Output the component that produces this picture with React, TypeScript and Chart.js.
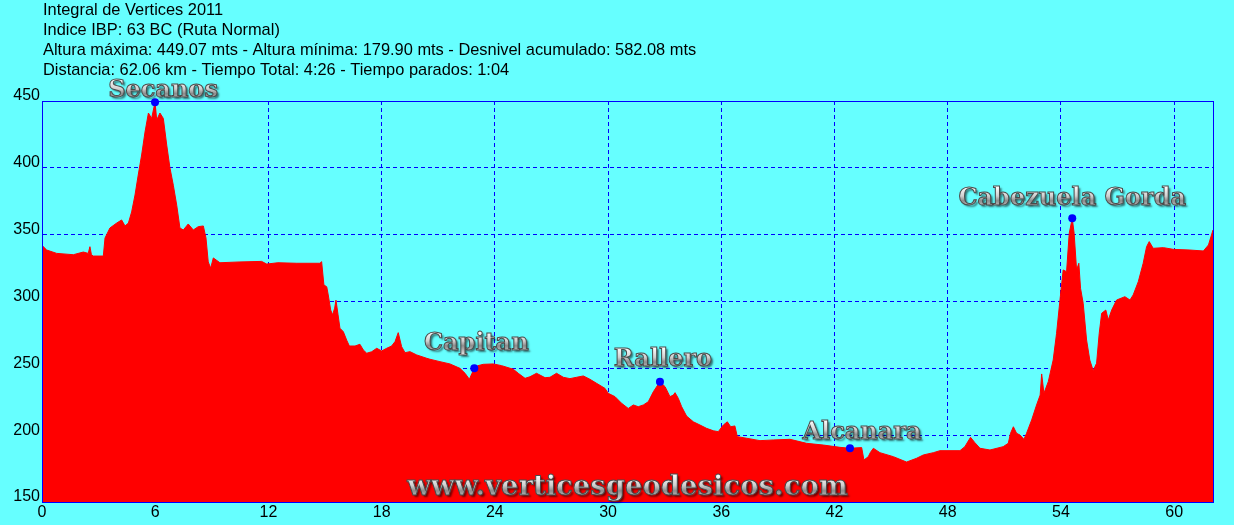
import React, { useEffect, useRef } from "react";
import { Chart, registerables } from "chart.js";

Chart.register(...registerables);

const headerLines = [
  "Integral de Vertices 2011",
  "Indice IBP: 63 BC (Ruta Normal)",
  "Altura máxima: 449.07 mts - Altura mínima: 179.90 mts - Desnivel acumulado: 582.08 mts",
  "Distancia: 62.06 km - Tiempo Total: 4:26 - Tiempo parados: 1:04",
];

const watermark = "www.verticesgeodesicos.com";

const distanceKm = [
  0.0, 0.25, 0.78, 1.66, 2.19, 2.45, 2.54, 2.62, 2.72, 3.25, 3.34, 3.6, 3.96, 4.22, 4.4, 4.58, 4.75, 4.93,
  5.1, 5.28, 5.46, 5.64, 5.81, 5.99, 6.08, 6.25, 6.43, 6.61, 6.78, 6.96, 7.14, 7.31, 7.49, 7.75, 8.02, 8.28,
  8.55, 8.69, 8.81, 8.94, 9.08, 9.43, 10.49, 11.64, 11.91, 12.5, 13.5, 14.73, 14.82, 14.94, 15.09, 15.17,
  15.3, 15.4, 15.51, 15.58, 15.69, 15.79, 15.97, 16.15, 16.29, 16.59, 16.85, 17.03, 17.21, 17.47, 17.74,
  18.0, 18.27, 18.53, 18.71, 18.88, 19.06, 19.24, 19.5, 19.86, 20.39, 20.56, 21.09, 21.62, 22.15, 22.42,
  22.65, 22.79, 22.91, 23.1, 23.39, 23.92, 24.36, 24.98, 25.24, 25.6, 25.86, 26.21, 26.66, 26.92, 27.27,
  27.63, 27.98, 28.33, 28.69, 29.04, 29.39, 29.84, 30.01, 30.37, 30.72, 31.07, 31.34, 31.6, 31.87, 32.13,
  32.4, 32.75, 33.02, 33.28, 33.46, 33.55, 33.72, 33.9, 34.16, 34.52, 34.87, 35.22, 35.58, 35.84, 36.11,
  36.32, 36.5, 36.72, 36.85, 37.34, 38.05, 38.76, 39.64, 40.52, 41.41, 42.29, 42.82, 43.44, 43.56, 43.79,
  43.9, 44.06, 44.41, 45.12, 45.82, 46.35, 46.71, 47.24, 47.59, 48.65, 48.91, 49.21, 49.44, 49.71, 50.24,
  50.94, 51.21, 51.33, 51.48, 51.65, 51.83, 52.04, 52.18, 52.45, 52.71, 52.9, 52.98, 53.1, 53.33, 53.59,
  53.77, 53.95, 54.12, 54.3, 54.44, 54.6, 54.7, 54.83, 54.95, 55.04, 55.18, 55.36, 55.53, 55.71, 55.89,
  56.03, 56.16, 56.38, 56.51, 56.69, 56.95, 57.39, 57.66, 57.83, 58.1, 58.36, 58.54, 58.68, 58.89, 59.43,
  59.96, 60.84, 61.55, 61.82, 62.06,
];

const elevationM = [
  342, 338.5, 336, 335, 337, 336, 341, 335, 334, 334, 347.5, 355, 358.7, 361, 356.5, 358.7, 367, 379.7,
  394.6, 409.6, 426.8, 441, 437, 449.07, 435.8, 441, 437, 417, 400, 387, 372, 355, 353.5, 358, 353.5, 356,
  356.5, 347.5, 329.6, 325, 332.6, 329, 329.6, 330, 328, 329, 328.6, 328.6, 329.8, 312.4, 311, 304.9,
  293.6, 290, 295, 301, 290, 280, 277.4, 271, 266.7, 266.7, 268, 263.7, 261.3, 262.4, 265,
  263, 265, 266.7, 270, 276.7, 266.2, 261.7, 262.5, 260, 257.5, 256.8, 255, 253.3, 250, 246.3,
  241.8, 246.3, 250, 252, 253, 253.3, 252, 249.3, 246.3, 242.5, 243.7, 246.3, 243, 243.3, 246.3,
  243.3, 242.3, 243.3, 244.3, 241.8, 238.8, 235, 231.3, 228.8, 223.8, 220, 222.6, 221.3, 222.6, 225,
  232.5, 240, 236.3, 228.8, 230, 231.8, 227.6, 221.3, 214.3, 210, 207.6, 205.1, 203.3, 202.6, 207.6,
  210, 206.3, 206.9, 198.9, 197.7, 195.9, 196.4, 196.9, 193.9, 192.6, 190.9, 190.2, 190.7, 181.4, 183.9,
  187, 190.2, 186.9, 183.9, 179.9, 182.7, 185.2, 186.9, 188.4, 188.4, 191.4, 198.4, 194.4, 190.2, 188.9,
  191.4, 193.9, 201.4, 206.3, 201.4, 200.1, 196.9, 201.4, 211.4, 222.6, 230, 245.8, 231.3, 240, 256.2,
  276.2, 301.1, 323.6, 322.3, 351, 362.2, 351, 323.6, 328.6, 309.9, 298.7, 271.2, 256.2, 248.3, 253.8,
  276.2, 291.2, 293.6, 286.2, 293.6, 301.1, 303.6, 301.1, 304.9, 314.8, 328.6, 341, 344.8, 339.8, 340.3,
  339, 338.5, 337.8, 342.3, 353.5,
];

const peakNames = ["Secanos", "Capitan", "Rallero", "Alcanara", "Cabezuela Gorda"];
const peakKm = [5.99, 22.91, 32.75, 42.82, 54.6];
const peakElevation = [449.07, 250, 240, 190.2, 362.2];

const xTicks = [0, 6, 12, 18, 24, 30, 36, 42, 48, 54, 60];
const yTicks = [150, 200, 250, 300, 350, 400, 450];

const X_MAX = 62.06;

// label placement relative to each peak dot (pixels)
const LABEL_SHIFT = [
  [8, -11],
  [2, -25],
  [3, -22],
  [12, -16],
  [0, -20],
];

const BG = "#66FFFF";
const BLUE = "#0000FF";

function drawSilver(ctx: CanvasRenderingContext2D, text: string, cx: number, cy: number, size: number) {
  ctx.save();
  ctx.font = `bold ${size}px "DejaVu Serif"`;
  ctx.textAlign = "center";
  ctx.textBaseline = "middle";
  const g = ctx.createLinearGradient(0, cy - size / 2, 0, cy + size / 2);
  g.addColorStop(0, "#ffffff");
  g.addColorStop(0.4, "#d0d0d0");
  g.addColorStop(0.6, "#8c8c8c");
  g.addColorStop(1, "#e8e8e8");
  ctx.shadowColor = "rgba(0,0,0,0.55)";
  ctx.shadowOffsetX = 2;
  ctx.shadowOffsetY = 2;
  ctx.shadowBlur = 2;
  ctx.fillStyle = g;
  ctx.fillText(text, cx, cy);
  ctx.shadowColor = "rgba(0,0,0,0)";
  ctx.lineWidth = 1;
  ctx.strokeStyle = "#4a4a4a";
  ctx.strokeText(text, cx, cy);
  ctx.restore();
}

export default function App() {
  const ref = useRef<HTMLCanvasElement>(null);

  useEffect(() => {
    document.body.style.margin = "0";
    document.body.style.background = BG;
    const canvas = ref.current;
    if (!canvas) return;

    const profile = distanceKm.map((x, i) => ({ x, y: elevationM[i] }));
    const peaks = peakKm.map((x, i) => ({ x, y: peakElevation[i] }));

    const decor = {
      id: "decor",
      beforeDraw(chart: any) {
        const c = chart.ctx;
        c.save();
        c.fillStyle = BG;
        c.fillRect(0, 0, chart.width, chart.height);
        c.fillStyle = "#000";
        c.font = '16.4px "Liberation Sans", Arial, sans-serif';
        c.textAlign = "left";
        c.textBaseline = "alphabetic";
        headerLines.forEach((t, i) => c.fillText(t, 43, 15 + i * 20));
        c.restore();
      },
      afterDatasetDraw(chart: any, args: any) {
        if (args.index !== 0) return;
        const a = chart.chartArea;
        const c = chart.ctx;
        c.save();
        c.strokeStyle = BLUE;
        c.lineWidth = 1;
        c.strokeRect(Math.round(a.left) + 0.5, Math.round(a.top) + 0.5, Math.round(a.right - a.left), Math.round(a.bottom - a.top));
        c.restore();
        drawSilver(c, watermark, (a.left + a.right) / 2, 488, 27.5);
      },
      afterDraw(chart: any) {
        const c = chart.ctx;
        const xs = chart.scales.x;
        const ys = chart.scales.y;
        peakNames.forEach((name, i) => {
          const px = xs.getPixelForValue(peakKm[i]);
          const py = ys.getPixelForValue(peakElevation[i]);
          drawSilver(c, name, px + LABEL_SHIFT[i][0], py + LABEL_SHIFT[i][1], 24);
        });
      },
    };

    const tickFont = { family: '"Liberation Sans", Arial, sans-serif', size: 16 };

    const chart = new Chart(canvas, {
      type: "line",
      data: {
        datasets: [
          {
            data: profile,
            fill: "start",
            backgroundColor: "#FF0000",
            borderColor: "#FF0000",
            borderWidth: 1,
            pointRadius: 0,
            tension: 0,
            order: 2,
          },
          {
            data: peaks,
            showLine: false,
            pointRadius: 4,
            pointBackgroundColor: BLUE,
            pointBorderWidth: 0,
            backgroundColor: BLUE,
            borderColor: BLUE,
            clip: false,
            order: 1,
          },
        ],
      },
      options: {
        animation: false,
        responsive: false,
        events: [],
        layout: { padding: { top: 101, right: 21, left: 0, bottom: 0 } },
        plugins: {
          legend: { display: false },
          tooltip: { enabled: false },
          title: { display: false },
        },
        scales: {
          x: {
            type: "linear",
            min: 0,
            max: X_MAX,
            afterBuildTicks: (s: any) => {
              s.ticks = xTicks.map((v) => ({ value: v }));
            },
            afterFit: (s: any) => {
              s.height = 23;
            },
            grid: { color: BLUE, lineWidth: 1, drawTicks: false },
            border: { color: BLUE, width: 1, dash: [4, 3] },
            ticks: { color: "#000", font: tickFont, padding: 1, maxRotation: 0, autoSkip: false },
          },
          y: {
            type: "linear",
            min: 150,
            max: 450,
            afterBuildTicks: (s: any) => {
              s.ticks = yTicks.map((v) => ({ value: v }));
            },
            afterFit: (s: any) => {
              s.width = 42;
            },
            grid: { color: BLUE, lineWidth: 1, drawTicks: false },
            border: { color: BLUE, width: 1, dash: [4, 3] },
            ticks: { color: "#000", font: tickFont, padding: 2, labelOffset: -5, autoSkip: false },
          },
        },
      },
      plugins: [decor],
    } as any);

    return () => chart.destroy();
  }, []);

  return (
    <div style={{ width: 1234, height: 525, background: BG }}>
      <canvas ref={ref} width={1234} height={525} style={{ display: "block" }} />
    </div>
  );
}
